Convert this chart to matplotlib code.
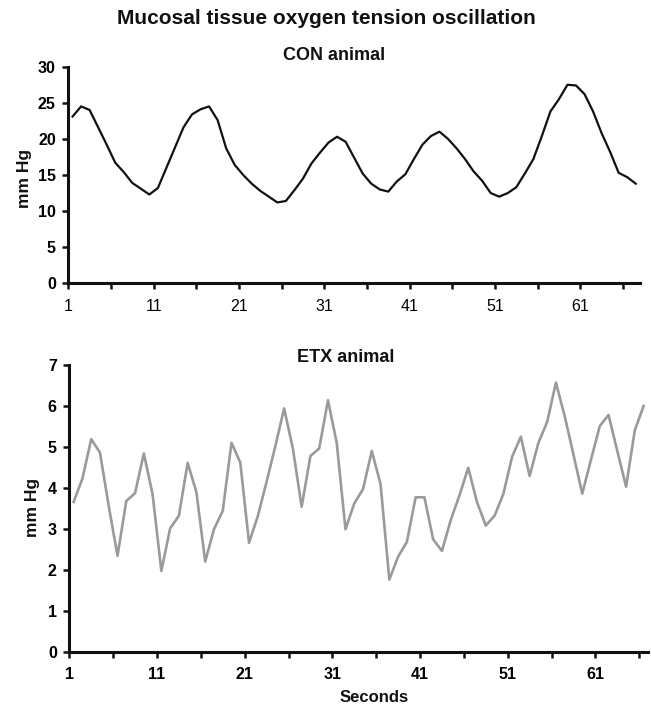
import numpy as np
import matplotlib.pyplot as plt

plt.rcParams['font.family'] = ['Liberation Sans', 'DejaVu Sans']

# values (mm Hg per second)
con_mmhg = [23.1, 24.5, 24.0, 21.6, 19.2, 16.7, 15.4, 13.9, 13.1, 12.3,
            13.2, 16.0, 18.8, 21.6, 23.4, 24.1, 24.5, 22.6, 18.7, 16.4,
            15.0, 13.8, 12.8, 12.0, 11.2, 11.4, 12.9, 14.5, 16.6, 18.1,
            19.5, 20.3, 19.6, 17.4, 15.2, 13.8, 13.0, 12.7, 14.1, 15.1,
            17.2, 19.2, 20.4, 21.0, 20.0, 18.7, 17.2, 15.5, 14.2, 12.5,
            12.0, 12.5, 13.3, 15.2, 17.2, 20.4, 23.8, 25.5, 27.5, 27.4,
            26.2, 23.8, 20.8, 18.2, 15.3, 14.7, 13.8]

etx_mmhg = [3.66, 4.23, 5.19, 4.86, 3.55, 2.34, 3.68, 3.87, 4.84, 3.84,
            1.97, 3.01, 3.32, 4.61, 3.89, 2.20, 2.99, 3.44, 5.10, 4.62,
            2.66, 3.31, 4.15, 5.02, 5.94, 4.96, 3.54, 4.78, 4.96, 6.14,
            5.10, 2.99, 3.62, 3.97, 4.90, 4.09, 1.76, 2.32, 2.68, 3.77,
            3.77, 2.74, 2.46, 3.21, 3.82, 4.49, 3.65, 3.08, 3.32, 3.85,
            4.76, 5.25, 4.29, 5.10, 5.61, 6.57, 5.75, 4.81, 3.86, 4.69,
            5.51, 5.78, 4.90, 4.03, 5.41, 6.00]

tick_labels = ['1', '11', '21', '31', '41', '51', '61']

con_sec = np.arange(1, len(con_mmhg) + 1)
etx_sec = np.arange(1, len(etx_mmhg) + 1)

W, H = 651, 707
fig = plt.figure(figsize=(W / 100, H / 100), dpi=100)

def px(x0, y0, x1, y1):
    # pixel box (left, top, right, bottom) -> figure fraction rect
    return [x0 / W, 1 - y1 / H, (x1 - x0) / W, (y1 - y0) / H]

ax1 = fig.add_axes(px(68.3, 66.7, 640, 283.3))
ax2 = fig.add_axes(px(69.3, 365, 648, 651.7))

ax1.plot(con_sec, con_mmhg, color='#111111', lw=1.6)
ax2.plot(etx_sec, etx_mmhg, color='#9a9a9a', lw=1.9)


def style(ax, n, ymax, ystep, xweight):
    ax.set_xlim(0.5, n + 0.5)
    ax.set_ylim(0, ymax)
    for s in ['top', 'right']:
        ax.spines[s].set_visible(False)
    for s in ['left', 'bottom']:
        ax.spines[s].set_linewidth(2.2)
        ax.spines[s].set_color('#111111')
    major = [0.5 + 10 * i for i in range(len(tick_labels))]
    minor = [m for m in np.arange(0.5, n + 0.5, 5) if m not in major]
    ax.set_xticks(major)
    ax.set_xticklabels(tick_labels, fontsize=11.5, fontweight=xweight)
    ax.set_xticks(minor, minor=True)
    ax.set_yticks(np.arange(0, ymax + 0.1, ystep))
    ax.set_yticklabels([f'{v:g}' for v in np.arange(0, ymax + 0.1, ystep)],
                       fontsize=11.5, fontweight='bold')
    ax.tick_params(axis='both', which='both', direction='out', length=4,
                   width=1.8, color='#111111')
    ax.tick_params(axis='x', which='both', pad=7)
    ax.tick_params(axis='y', pad=5)


style(ax1, len(con_mmhg), 30, 5, 'normal')
style(ax2, len(etx_mmhg), 7, 1, 'bold')

def ftext(x, y, s, **kw):
    fig.text(x / W, 1 - y / H, s, ha='center', va='center',
             fontweight='bold', color='#111111', **kw)

ftext(326, 18, 'Mucosal tissue oxygen tension oscillation', fontsize=15)
ftext(334.5, 56, 'CON animal', fontsize=13)
ftext(346, 357, 'ETX animal', fontsize=13)
ftext(25, 178, 'mm Hg', fontsize=12.5, rotation=90)
ftext(32, 507, 'mm Hg', fontsize=12.5, rotation=90)
ftext(374.5, 698, 'Seconds', fontsize=12)

fig.savefig('out.png', dpi=100)
